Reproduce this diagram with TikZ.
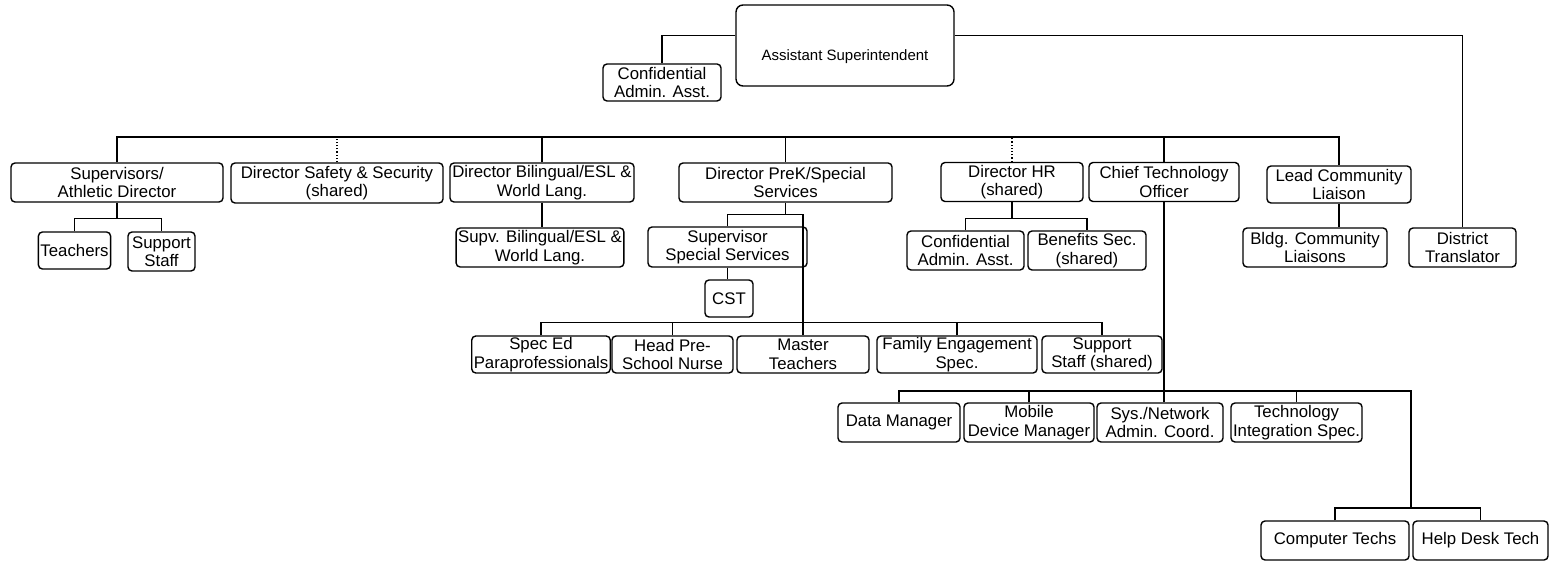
\documentclass[tikz,border=0pt]{standalone}
\usepackage{fontspec}
\setmainfont{Liberation Sans}
\begin{document}
\begin{tikzpicture}[
        x=0.5pt, y=-0.5pt, % pixel grid, y pointing down
        role/.style={draw, line width=0.7pt, rounded corners=2pt, minimum height=19.5pt, inner xsep=1pt, inner ysep=0.5pt, align=center, font=\fontsize{8.4}{9.2}\selectfont}, % Box styling
        head/.style={draw, line width=0.7pt, rounded corners=3.5pt, minimum width=109pt, minimum height=40.5pt, text height=17pt, text depth=2pt, font=\fontsize{7.5}{9}\selectfont}, % Top box styling
        sharedlink/.style={densely dotted}, % Link to shared posts
        every path/.style={line width=0.6pt}
        ]
        \useasboundingbox (0,0) rectangle (1550,561);

        % Define nodes
        \node (AS) [head] at (845,45.5) {Assistant Superintendent};
        \node (confAsst) [role, minimum width=59pt, minimum height=18.5pt] at (662,82.5) {Confidential\\Admin. Asst.};

        \node (supervisors) [role, minimum width=106pt] at (117,182.5) {Supervisors/\\Athletic Director};
        \node (safety) [role, minimum width=106pt, minimum height=20pt] at (337,183) {Director Safety \& Security\\(shared)};
        \node (bilingual) [role, minimum width=92pt] at (542,182.5) {Director Bilingual/ESL \&\\World Lang.};
        \node (prek) [role, minimum width=106.5pt] at (785.5,182.5) {Director PreK/Special\\Services};
        \node (HR) [role, minimum width=71pt] at (1012,182) {Director HR\\(shared)};
        \node (CTO) [role, minimum width=75pt] at (1164,182) {Chief Technology\\Officer};
        \node (liaison) [role, minimum width=72pt, minimum height=18.5pt] at (1339,184.5) {Lead Community\\Liaison};
        \node (translator) [role, minimum width=53.5pt] at (1462.5,247.5) {District\\Translator};

        \node (teachers) [role, minimum width=35.5pt, minimum height=18.5pt] at (74.5,250.5) {Teachers};
        \node (supportStaff) [role, minimum width=33.5pt] at (161.5,251.5) {Support\\Staff};
        \node (supvBilingual) [role, minimum width=83pt] at (540,247.5) {Supv. Bilingual/ESL \&\\World Lang.};
        \node (supvSS) [role, minimum width=79.5pt, minimum height=20pt] at (727.5,247) {Supervisor\\Special Services};
        \node (CST) [role, minimum width=24pt, minimum height=18.5pt] at (729,298.5) {CST};
        \node (confHR) [role, minimum width=58.5pt] at (965.5,250.5) {Confidential\\Admin. Asst.};
        \node (benefits) [role, minimum width=59pt] at (1087,250.5) {Benefits Sec.\\(shared)};
        \node (bldgLiaisons) [role, minimum width=72pt] at (1315,247.5) {Bldg. Community\\Liaisons};

        \node (specEd) [role, minimum width=67pt, minimum height=18.5pt] at (541,354.5) {Spec Ed\\Paraprofessionals};
        \node (nurse) [role, minimum width=60.5pt, minimum height=18.5pt] at (672.5,354.5) {Head Pre-\\School Nurse};
        \node (masterTeachers) [role, minimum width=66pt, minimum height=18.5pt] at (803,354.5) {Master\\Teachers};
        \node (family) [role, minimum width=80pt, minimum height=18.5pt] at (957,354.5) {Family Engagement\\Spec.};
        \node (supportShared) [role, minimum width=60pt, minimum height=18.5pt] at (1102,354.5) {Support\\Staff (shared)};

        \node (dataMgr) [role, minimum width=61pt] at (899,422.5) {Data Manager};
        \node (mobileMgr) [role, minimum width=65pt] at (1029,422.5) {Mobile\\Device Manager};
        \node (sysAdmin) [role, minimum width=63pt] at (1160,422.5) {Sys./Network\\Admin. Coord.};
        \node (techInt) [role, minimum width=65.5pt] at (1296.5,422.5) {Technology\\Integration Spec.};
        \node (compTechs) [role, minimum width=74pt] at (1335,540.5) {Computer Techs};
        \node (helpDesk) [role, minimum width=67.5pt] at (1480.5,540.5) {Help Desk Tech};

        % Draw lines from the top
        \draw (AS.175) -| (confAsst.north);
        \draw (AS.5) -| (translator.north);

        % Main bus
        \coordinate (busL) at (117,137);
        \coordinate (busR) at (1339,137);
        \draw (supervisors.north) -- (busL) -- (busR) -- (liaison.north);
        \draw[sharedlink] (safety.north) -- (safety.north |- busL);
        \draw (bilingual.north) -- (bilingual.north |- busL);
        \draw (prek.north) -- (prek.north |- busL);
        \draw[sharedlink] (HR.north) -- (HR.north |- busL);
        \draw (CTO.north) -- (CTO.north |- busL);

        % Supervisors
        \draw (supervisors.south) -- ++(0,16) coordinate (supJ);
        \draw (teachers.north) |- (supJ) -| (supportStaff.north);

        % Bilingual
        \draw (bilingual.south) -- (bilingual.south |- supvBilingual.north);

        % PreK / Special Services
        \draw (prek.south) -- ++(0,11.5) coordinate (prekJ);
        \draw (supvSS.north) |- (prekJ) -| (masterTeachers.north);
        \draw (supvSS.south) -- (supvSS.south |- CST.north);
        \path (masterTeachers.north) ++(0,-13) coordinate (lowBus);
        \draw (specEd.north) |- (lowBus) -| (supportShared.north);
        \draw (nurse.north) -- (nurse.north |- lowBus);
        \draw (family.north) -- (family.north |- lowBus);

        % HR
        \draw (HR.south) -- ++(0,16) coordinate (hrJ);
        \draw (confHR.north) |- (hrJ) -| (benefits.north);

        % Community liaison
        \draw (liaison.south) -- (liaison.south |- bldgLiaisons.north);

        % Technology
        \draw (CTO.south) -- (CTO.south |- sysAdmin.north);
        \coordinate (techBus) at (1411,391);
        \draw (dataMgr.north) |- (techBus) -- ++(0,117) coordinate (techJ);
        \draw (mobileMgr.north) -- (mobileMgr.north |- techBus);
        \draw (techInt.north) -- (techInt.north |- techBus);
        \draw (compTechs.north) |- (techJ) -| (helpDesk.north);

    \end{tikzpicture}
\end{document}
